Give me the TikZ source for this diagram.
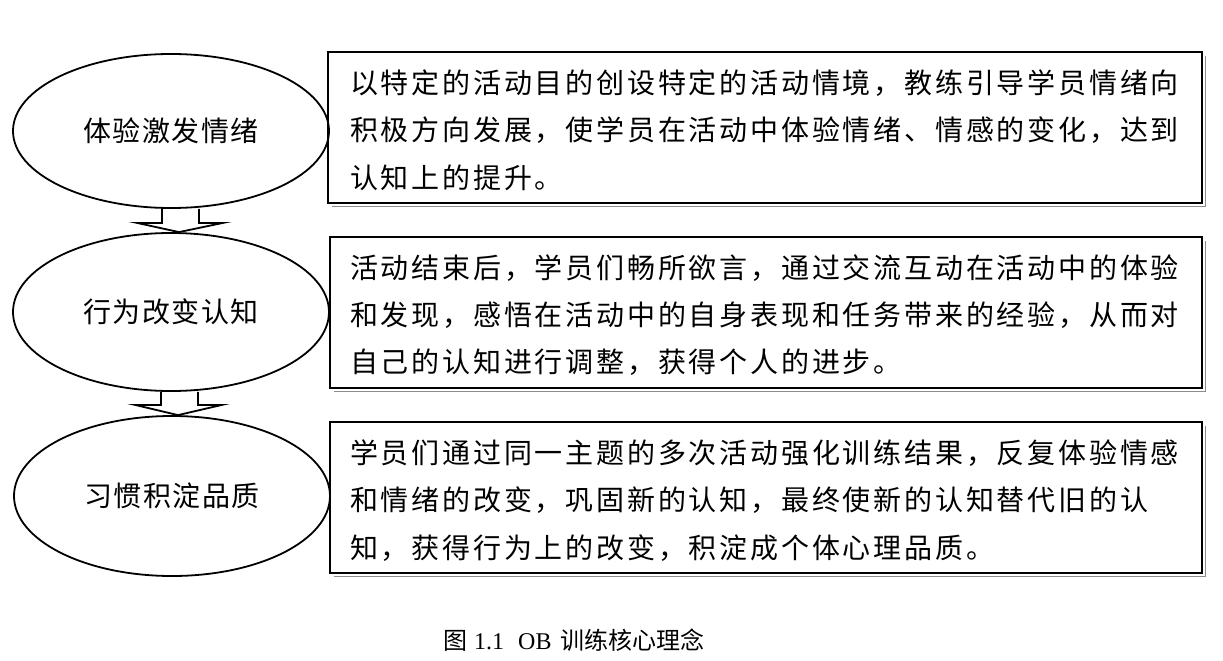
\documentclass[tikz,border=0pt]{standalone}
\usepackage{fontspec}
\setmainfont{Liberation Serif}
\newfontfamily\cjk[LetterSpace=10]{Noto Sans CJK SC}
\newfontfamily\cjkoval[LetterSpace=5]{Noto Sans CJK SC}
\newfontfamily\cjkplain{Noto Sans CJK SC}
\usetikzlibrary{shapes.geometric,calc}
\tikzset{
  oval/.style={ellipse, draw=black, line width=1.8pt, minimum width=316pt, inner sep=0pt,
    font=\fontsize{28}{28}\selectfont\cjkoval},
  textbox/.style={rectangle, draw=black, line width=2.2pt, minimum width=872pt, minimum height=151pt, inner sep=0pt},
  boxshadow/.style={draw=black!45, line width=1pt},
  line/.style={anchor=west, inner sep=0pt, font=\fontsize{28}{28}\selectfont\cjk},
  blockarrow/.style={draw=black, line width=1.8pt, line join=miter},
  caption/.style={anchor=west, inner sep=0pt, font=\fontsize{24}{24}\selectfont}
}
\begin{document}
\begin{tikzpicture}[x=1pt,y=-1pt]
\useasboundingbox[fill=white] (0,0) rectangle (1223,661);

% ellipses
\node[oval, minimum height=154pt] (e1) at (171,131) {体验激发情绪};
\node[oval, minimum height=158pt] (e2) at (171,312) {行为改变认知};
\node[oval, minimum height=160pt] (e3) at (172,496) {习惯积淀品质};

% block arrows
\draw[blockarrow] ($(e1.south)+(-9,0)$) -- ++(0,14) -- ++(-25,0) -- ($(e2.north)+(8,0)$)
  -- ($(e1.south)+(52,14)$) -- ++(-24,0) -- ($(e1.south)+(28,0)$);
\draw[blockarrow] ($(e2.south)+(-10,0)$) -- ++(0,13) -- ++(-26,0) -- ($(e3.north)+(6,0)$)
  -- ($(e2.south)+(51,13)$) -- ++(-24,0) -- ($(e2.south)+(27,0)$);

% boxes with shadow
\draw[boxshadow] (1205,56) -- (1205,206) -- (332,206);
\node[textbox, minimum width=874pt] (b1) at (765,127.5) {};
\draw[boxshadow] (1205,241) -- (1205,391) -- (334,391);
\node[textbox] (b2) at (766,312.5) {};
\draw[boxshadow] (1205,426) -- (1205,576) -- (334,576);
\node[textbox] (b3) at (766,497.5) {};

% box 1 text
\node[line] (t11) at (350,83) {以特定的活动目的创设特定的活动情境，教练引导学员情绪向};
\node[line] (t12) at (350,130) {积极方向发展，使学员在活动中体验情绪、情感的变化，达到};
\node[line] (t13) at (350,178) {认知上的提升。};

% box 2 text
\node[line] (t21) at (350,268) {活动结束后，学员们畅所欲言，通过交流互动在活动中的体验};
\node[line] (t22) at (350,315) {和发现，感悟在活动中的自身表现和任务带来的经验，从而对};
\node[line] (t23) at (350,362) {自己的认知进行调整，获得个人的进步。};

% box 3 text
\node[line] (t31) at (350,453) {学员们通过同一主题的多次活动强化训练结果，反复体验情感};
\node[line] (t32) at (350,500) {和情绪的改变，巩固新的认知，最终使新的认知替代旧的认};
\node[line] (t33) at (350,548) {知，获得行为上的改变，积淀成个体心理品质。};

% caption
\node[caption] (cap) at (443,640) {{\cjkplain 图}\hspace{7pt}1.1\hspace{14pt}OB\hspace{9pt}{\cjkplain 训练核心理念}};
\end{tikzpicture}
\end{document}
